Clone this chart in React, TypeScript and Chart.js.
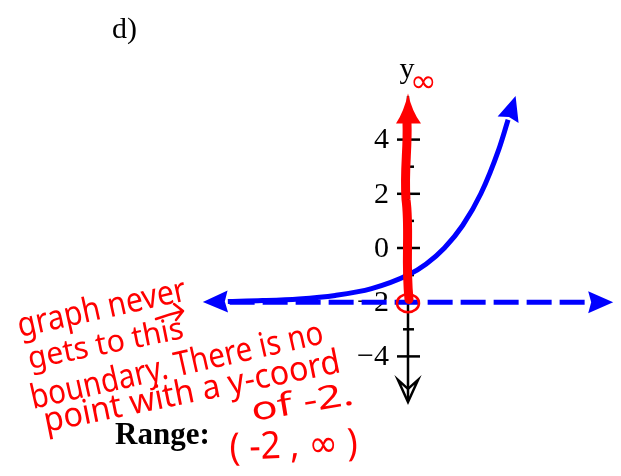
import React, { useEffect, useRef } from "react";
import { Chart, registerables } from "chart.js";

Chart.register(...registerables);

// Exponential curve, read point by point (x, y)
const CURVE_X = [-4.95, -4, -3, -2, -1, 0, 0.5, 1, 1.5, 2, 2.5, 2.75];
const CURVE_Y = [-1.97, -1.94, -1.88, -1.75, -1.5, -1, -0.59, 0, 0.83, 2, 3.66, 4.73];

// Horizontal asymptote y = -2
const ASYMPTOTE_X = [-4.9, 4.95];
const ASYMPTOTE_Y = -2;

// Vertical axis ticks
const MAJOR_TICKS = [4, 2, 0, -2, -4];
const MAJOR_LABELS = ["4", "2", "0", "\u22122", "\u22124"];
const MINOR_TICKS = [3, 1, -1, -3];

// Axis extents and the red range marker on the y-axis
const Y_AXIS_TOP = 5.6;
const Y_AXIS_BOTTOM = -5.68;
const RANGE_MARK_FROM = -1.9;
const RANGE_MARK_TO = 5.7;

const TITLE = "d)";
const AXIS_NAME = "y";
const RANGE_LABEL = "Range:";
const RANGE_ANSWER = "( -2 , \u221E )";
const NOTES = ["graph never", "gets to this", "boundary. There is no", "point with a y-coord", "of -2."];

const BLUE = "#0000ff";
const RED = "#ff0000";
const SERIF = '"Liberation Serif", "DejaVu Serif", serif';
const HAND = '"Noto Sans", "DejaVu Sans", sans-serif';

function arrowHead(ctx: CanvasRenderingContext2D, bx: number, by: number, dx: number, dy: number, len: number, half: number, color: string) {
  const n = Math.hypot(dx, dy);
  const ux = dx / n, uy = dy / n;
  const tx = bx + ux * len, ty = by + uy * len;
  ctx.save();
  ctx.fillStyle = color;
  ctx.beginPath();
  ctx.moveTo(tx, ty);
  ctx.lineTo(bx - uy * half, by + ux * half);
  ctx.lineTo(bx + ux * 3, by + uy * 3);
  ctx.lineTo(bx + uy * half, by - ux * half);
  ctx.closePath();
  ctx.fill();
  ctx.restore();
}

function handText(ctx: CanvasRenderingContext2D, text: string, x1: number, y1: number, x2: number, y2: number, size: number) {
  ctx.save();
  const ang = Math.atan2(y2 - y1, x2 - x1);
  const len = Math.hypot(x2 - x1, y2 - y1);
  ctx.translate(x1, y1);
  ctx.rotate(ang);
  ctx.font = `${size}px ${HAND}`;
  ctx.fillStyle = RED;
  ctx.textAlign = "left";
  ctx.textBaseline = "alphabetic";
  const w = ctx.measureText(text).width;
  ctx.scale(len / w, 1);
  ctx.fillText(text, 0, 0);
  ctx.restore();
}

const graphPlugin = {
  id: "graphDecor",
  beforeDatasetsDraw(chart: any) {
    const { ctx, scales } = chart;
    const xs = scales.x, ys = scales.y;
    const x0 = xs.getPixelForValue(0);
    ctx.save();

    // y-axis line
    ctx.strokeStyle = "#000";
    ctx.lineWidth = 2.5;
    const top = ys.getPixelForValue(Y_AXIS_TOP);
    const bottom = ys.getPixelForValue(Y_AXIS_BOTTOM);
    ctx.beginPath();
    ctx.moveTo(x0, top);
    ctx.lineTo(x0, bottom - 2);
    ctx.stroke();

    // open arrowhead at the bottom
    ctx.beginPath();
    ctx.moveTo(x0, bottom);
    ctx.lineTo(x0 - 10, bottom - 22);
    ctx.lineTo(x0, bottom - 13);
    ctx.lineTo(x0 + 10, bottom - 22);
    ctx.closePath();
    ctx.stroke();

    // ticks
    MAJOR_TICKS.forEach((v) => {
      const py = ys.getPixelForValue(v);
      ctx.beginPath();
      ctx.moveTo(x0 - 11, py);
      ctx.lineTo(x0 + 12, py);
      ctx.stroke();
    });
    MINOR_TICKS.forEach((v) => {
      const py = ys.getPixelForValue(v);
      ctx.beginPath();
      ctx.moveTo(x0 - 5, py);
      ctx.lineTo(x0 + 6, py);
      ctx.stroke();
    });

    // tick labels
    ctx.fillStyle = "#000";
    ctx.font = `30px ${SERIF}`;
    ctx.textAlign = "right";
    ctx.textBaseline = "middle";
    MAJOR_TICKS.forEach((v, i) => {
      ctx.fillText(MAJOR_LABELS[i], x0 - 19, ys.getPixelForValue(v) + 1);
    });

    // axis name
    ctx.textAlign = "center";
    ctx.textBaseline = "alphabetic";
    ctx.fillText(AXIS_NAME, x0 - 1, 78);

    // part label and range caption
    ctx.textAlign = "left";
    ctx.font = `30px ${SERIF}`;
    ctx.fillText(TITLE, 112, 38);
    ctx.font = `bold 31px ${SERIF}`;
    ctx.fillText(RANGE_LABEL, 115, 444);
    ctx.restore();
  },
  afterDatasetsDraw(chart: any) {
    const { ctx, scales } = chart;
    const xs = scales.x, ys = scales.y;
    const px = (i: number) => xs.getPixelForValue(CURVE_X[i]);
    const py = (i: number) => ys.getPixelForValue(CURVE_Y[i]);
    const n = CURVE_X.length;

    // arrowheads on the curve
    arrowHead(ctx, px(0), py(0), px(0) - px(1), py(0) - py(1), 25, 11, BLUE);
    arrowHead(ctx, px(n - 1), py(n - 1), px(n - 1) - px(n - 2), py(n - 1) - py(n - 2), 25, 11, BLUE);

    // arrowhead on the asymptote
    const ay = ys.getPixelForValue(ASYMPTOTE_Y);
    arrowHead(ctx, xs.getPixelForValue(ASYMPTOTE_X[1]), ay, 1, 0, 25, 11, BLUE);

    // red range marker along the y-axis
    const x0 = xs.getPixelForValue(0);
    const yFrom = ys.getPixelForValue(RANGE_MARK_FROM);
    const yTo = ys.getPixelForValue(RANGE_MARK_TO);
    ctx.save();
    ctx.strokeStyle = RED;
    ctx.fillStyle = RED;
    ctx.lineCap = "round";
    ctx.lineJoin = "round";
    ctx.lineWidth = 9;
    ctx.beginPath();
    ctx.moveTo(x0 + 1, yFrom);
    ctx.bezierCurveTo(x0 - 3, yFrom - 40, x0 + 2, yFrom - 70, x0 - 2, yFrom - 100);
    ctx.bezierCurveTo(x0 - 4, yFrom - 130, x0, yFrom - 150, x0 - 1, yTo + 30);
    ctx.stroke();
    ctx.beginPath();
    ctx.moveTo(x0, yTo);
    ctx.quadraticCurveTo(x0 - 4, yTo + 18, x0 - 12, yTo + 30);
    ctx.lineTo(x0 + 13, yTo + 30);
    ctx.quadraticCurveTo(x0 + 4, yTo + 18, x0, yTo);
    ctx.closePath();
    ctx.fill();

    // open circle at y = -2
    ctx.lineWidth = 2.5;
    ctx.beginPath();
    ctx.ellipse(x0, ay + 1, 11, 9, 0, 0, Math.PI * 2);
    ctx.stroke();

    // infinity next to the axis name
    ctx.font = `32px ${HAND}`;
    ctx.textAlign = "left";
    ctx.textBaseline = "alphabetic";
    ctx.fillText("\u221E", x0 + 2, 92);

    // small arrow under "never"
    ctx.lineWidth = 2.5;
    ctx.beginPath();
    ctx.moveTo(156, 319);
    ctx.quadraticCurveTo(170, 314, 183, 311);
    ctx.moveTo(174, 304);
    ctx.lineTo(183, 311);
    ctx.lineTo(176, 320);
    ctx.stroke();
    ctx.restore();

    // handwritten notes
    handText(ctx, NOTES[0], 20, 337, 188, 300, 34);
    handText(ctx, NOTES[1], 30, 369, 185, 338, 31);
    handText(ctx, NOTES[2], 33, 409, 325, 343, 34);
    handText(ctx, NOTES[3], 46, 432, 342, 372, 34);
    handText(ctx, NOTES[4], 253, 421, 355, 404, 32);
    handText(ctx, RANGE_ANSWER, 230, 460, 358, 455, 38);
  },
};

export default function App() {
  const canvasRef = useRef<HTMLCanvasElement | null>(null);

  useEffect(() => {
    if (!canvasRef.current) return;
    const curve = CURVE_X.map((x, i) => ({ x, y: CURVE_Y[i] }));
    const asymptote = ASYMPTOTE_X.map((x) => ({ x, y: ASYMPTOTE_Y }));
    const chart = new Chart(canvasRef.current, {
      type: "scatter",
      data: {
        datasets: [
          {
            data: curve,
            showLine: true,
            borderColor: BLUE,
            borderWidth: 5,
            pointRadius: 0,
            cubicInterpolationMode: "monotone",
          },
          {
            data: asymptote,
            showLine: true,
            borderColor: BLUE,
            borderWidth: 5,
            borderDash: [25, 8],
            pointRadius: 0,
          },
        ],
      },
      options: {
        responsive: false,
        animation: false,
        devicePixelRatio: 1,
        layout: { padding: 0 },
        events: [],
        plugins: { legend: { display: false }, tooltip: { enabled: false } },
        scales: {
          x: { type: "linear", display: false, min: -408 / 36.4, max: 213 / 36.4 },
          y: { type: "linear", display: false, min: -228 / 27.1, max: 248 / 27.1 },
        },
      },
      plugins: [graphPlugin],
    } as any);
    return () => chart.destroy();
  }, []);

  return (
    <div style={{ position: "absolute", left: 0, top: 0, width: 621, height: 476, background: "#fff" }}>
      <canvas ref={canvasRef} width={621} height={476} style={{ display: "block" }} />
    </div>
  );
}
